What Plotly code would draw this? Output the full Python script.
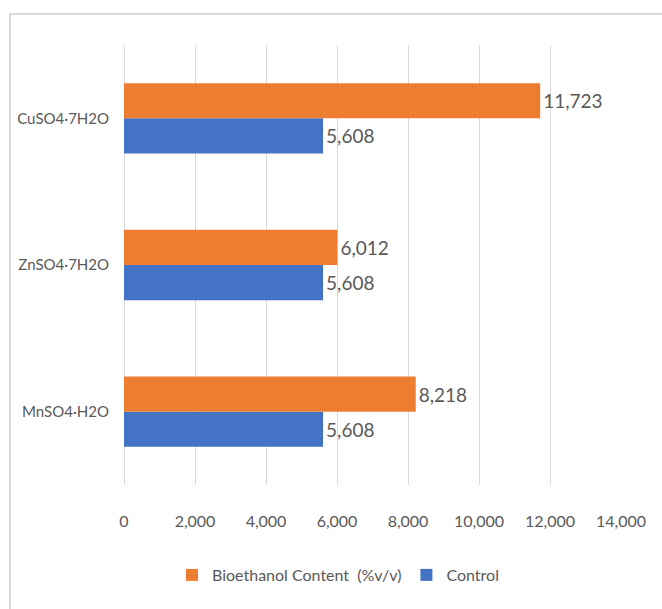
import plotly.graph_objects as go

categories = ["MnSO4·H2O", "ZnSO4·7H2O", "CuSO4·7H2O"]
control = [5608, 5608, 5608]
bioethanol = [8218, 6012, 11723]
tick_vals = [0, 2000, 4000, 6000, 8000, 10000, 12000, 14000]

FONT = "Lato, Liberation Sans, sans-serif"
GRAY = "#595959"
GRID = "#d9d9d9"

W, H = 662, 609
L, R, T, B = 124, 41, 45, 124
pw = W - L - R
ph = H - T - B

fig = go.Figure()
fig.add_trace(go.Bar(
    y=categories, x=control, orientation="h", name="Control",
    marker=dict(color="#4472C4", line=dict(width=0)),
    text=[f"{v:,}" for v in control], textposition="outside",
    textfont=dict(family=FONT, size=19, color=GRAY),
    cliponaxis=False, legendrank=2,
))
fig.add_trace(go.Bar(
    y=categories, x=bioethanol, orientation="h", name="Bioethanol Content  (%v/v)",
    marker=dict(color="#ED7D31", line=dict(width=0)),
    text=[f"{v:,}" for v in bioethanol], textposition="outside",
    textfont=dict(family=FONT, size=19, color=GRAY),
    cliponaxis=False, legendrank=1,
))

fig.update_layout(
    width=W, height=H,
    margin=dict(l=L, r=R, t=T, b=B, autoexpand=False),
    paper_bgcolor="white", plot_bgcolor="white",
    barmode="group", bargap=0.52, bargroupgap=0,
    font=dict(family=FONT, size=16, color=GRAY),
    showlegend=True,
    legend=dict(
        orientation="h", x=(338 - L) / pw, xanchor="center",
        y=(H - B - 575) / ph, yanchor="middle",
        font=dict(family=FONT, size=16, color=GRAY),
        itemwidth=30, traceorder="normal",
    ),
    xaxis=dict(
        range=[0, 14000], tickvals=tick_vals, tickformat=",d",
        showgrid=True, gridcolor=GRID, gridwidth=1,
        zeroline=True, zerolinecolor=GRID, zerolinewidth=1,
        showline=False, ticks="outside", ticklen=22, tickcolor="rgba(0,0,0,0)",
        tickfont=dict(family=FONT, size=16, color=GRAY),
    ),
    yaxis=dict(
        showgrid=False, zeroline=False, showline=False,
        ticks="outside", ticklen=11, tickcolor="rgba(0,0,0,0)",
        tickfont=dict(family=FONT, size=15, color=GRAY),
        categoryorder="array", categoryarray=categories,
    ),
    shapes=[dict(
        type="rect", xref="paper", yref="paper",
        x0=(10 - L) / pw, x1=1.5, y0=-1.0, y1=(H - B - 14) / ph,
        line=dict(color=GRID, width=2), fillcolor="rgba(0,0,0,0)", layer="below",
    )],
)

fig.write_html("out.html")
